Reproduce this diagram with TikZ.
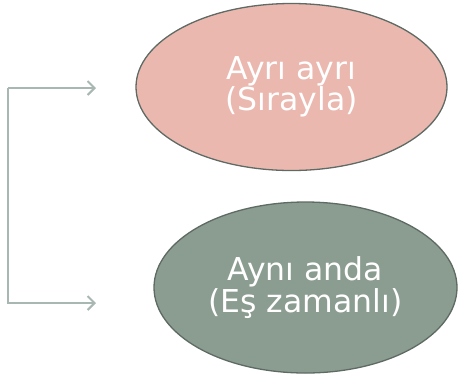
\documentclass[tikz,border=0pt]{standalone}
\usepackage{fontspec}
\setmainfont{DejaVu Sans}
\usetikzlibrary{shapes.geometric,arrows.meta}
\definecolor{pinkfill}{HTML}{EBB8AF}
\definecolor{greenfill}{HTML}{8B9C90}
\definecolor{edgecol}{HTML}{5E6A64}
\definecolor{linkcol}{HTML}{A8B7B1}
\tikzset{
  bubble/.style={ellipse, draw=edgecol, line width=1.3pt, inner sep=0pt,
    text=white, align=center, font=\fontsize{31.5}{30}\selectfont},
  link/.style={draw=linkcol, line width=2.1pt,
    -{Straight Barb[length=7pt,width=14pt,line width=2.1pt]}}
}
\begin{document}
\begin{tikzpicture}[x=1pt,y=-1pt]
\useasboundingbox (0,0) rectangle (460,376);
\node[bubble, fill=pinkfill, minimum width=311pt, minimum height=167pt] (top) at (291.5,87) {Ayrı ayrı\\(Sırayla)};
\node[bubble, fill=greenfill, minimum width=303pt, minimum height=171pt] (bot) at (305.5,287.5) {Aynı anda\\(Eş zamanlı)};
\coordinate (ta) at (96,88);
\coordinate (tc) at (8,88);
\coordinate (bc) at (8,303);
\coordinate (ba) at (96,303);
\draw[link] (tc) -- (ta);
\draw[link] (tc) -- (bc) -- (ba);
\end{tikzpicture}
\end{document}
